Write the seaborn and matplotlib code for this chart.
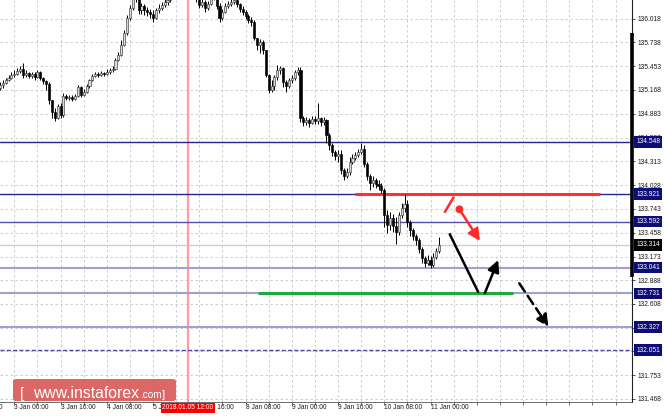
import numpy as np
import pandas as pd
import matplotlib
matplotlib.use("Agg")
import matplotlib.pyplot as plt
import matplotlib.transforms as mtransforms
from matplotlib.patches import FancyBboxPatch
import seaborn as sns

# hourly bars, bar 0 = 3 Jan 00:00 (weekend hours are skipped like in the terminal)
first_bar = -5
first_open = 135.189
closes = [
    135.225, 135.249, 135.285, 135.309, 135.345, 135.357, 135.393, 135.417, 135.345, 135.369,
    135.333, 135.357, 135.321, 135.381, 135.309, 135.273, 135.237, 135.045, 134.901, 134.829,
    134.973, 134.865, 135.093, 135.069, 135.081, 135.057, 135.093, 135.201, 135.105, 135.141,
    135.213, 135.285, 135.333, 135.357, 135.345, 135.369, 135.357, 135.381, 135.405, 135.417,
    135.525, 135.585, 135.705, 135.849, 136.029, 136.149, 136.341, 136.305, 136.125, 136.173,
    136.125, 136.101, 136.077, 136.029, 136.125, 136.149, 136.185, 136.221, 136.245, 136.281,
    136.365, 136.425, 136.461, 136.413, 136.485, 136.437, 136.389, 136.341, 136.281, 136.185,
    136.221, 136.149, 136.197, 136.269, 136.305, 136.173, 136.029, 136.101, 136.173, 136.197,
    136.221, 136.245, 136.197, 136.137, 136.101, 136.053, 136.005, 135.981, 135.789, 135.705,
    135.741, 135.645, 135.345, 135.165, 135.213, 135.321, 135.405, 135.429, 135.261, 135.213,
    135.285, 135.309, 135.381, 135.405, 134.829, 134.781, 134.805, 134.769, 134.817, 134.793,
    134.829, 134.781, 134.805, 134.625, 134.505, 134.421, 134.373, 134.397, 134.205, 134.133,
    134.181, 134.301, 134.349, 134.385, 134.421, 134.457, 134.277, 134.133, 134.049, 134.085,
    134.037, 134.013, 133.965, 133.665, 133.545, 133.629, 133.533, 133.461, 133.665, 133.749,
    133.797, 133.581, 133.485, 133.413, 133.365, 133.269, 133.161, 133.101, 133.137, 133.077,
    133.173, 133.245, 133.314,
]
highs = [
    135.261, 135.285, 135.309, 135.345, 135.381, 135.405, 135.429, 135.453, 135.489, 135.405,
    135.381, 135.381, 135.381, 135.405, 135.393, 135.321, 135.285, 135.261, 135.045, 134.949,
    134.997, 135.009, 135.129, 135.117, 135.105, 135.105, 135.117, 135.225, 135.213, 135.177,
    135.237, 135.297, 135.357, 135.381, 135.381, 135.393, 135.381, 135.417, 135.429, 135.453,
    135.549, 135.621, 135.765, 135.885, 136.065, 136.185, 136.389, 136.365, 136.341, 136.209,
    136.197, 136.161, 136.137, 136.125, 136.149, 136.197, 136.221, 136.269, 136.293, 136.341,
    136.413, 136.485, 136.533, 136.485, 136.557, 136.509, 136.461, 136.413, 136.353, 136.293,
    136.269, 136.245, 136.233, 136.317, 136.353, 136.317, 136.209, 136.137, 136.209, 136.233,
    136.269, 136.281, 136.257, 136.209, 136.173, 136.125, 136.077, 136.041, 136.005, 135.789,
    135.777, 135.765, 135.645, 135.357, 135.285, 135.345, 135.465, 135.453, 135.441, 135.285,
    135.309, 135.345, 135.405, 135.441, 135.441, 134.853, 134.841, 134.829, 134.853, 134.853,
    135.009, 134.841, 134.841, 134.817, 134.649, 134.529, 134.445, 134.445, 134.445, 134.229,
    134.229, 134.361, 134.397, 134.421, 134.457, 134.529, 134.505, 134.301, 134.157, 134.133,
    134.109, 134.085, 134.049, 133.989, 133.725, 133.701, 133.677, 133.641, 133.701, 133.809,
    133.925, 133.845, 133.605, 133.509, 133.437, 133.389, 133.293, 133.185, 133.197, 133.185,
    133.221, 133.281, 133.401,
]
lows = [
    135.165, 135.189, 135.237, 135.273, 135.297, 135.321, 135.345, 135.369, 135.309, 135.321,
    135.309, 135.309, 135.285, 135.309, 135.285, 135.237, 135.165, 134.997, 134.829, 134.793,
    134.817, 134.829, 134.841, 135.045, 135.045, 135.033, 135.045, 135.081, 135.081, 135.093,
    135.129, 135.189, 135.273, 135.321, 135.321, 135.333, 135.333, 135.345, 135.357, 135.381,
    135.405, 135.513, 135.573, 135.693, 135.825, 136.005, 136.125, 136.221, 136.077, 136.077,
    136.065, 136.053, 136.029, 135.981, 136.017, 136.089, 136.125, 136.161, 136.185, 136.221,
    136.269, 136.341, 136.389, 136.365, 136.389, 136.365, 136.341, 136.293, 136.221, 136.149,
    136.161, 136.101, 136.125, 136.185, 136.245, 136.137, 135.981, 136.005, 136.089, 136.149,
    136.173, 136.197, 136.161, 136.101, 136.065, 136.017, 135.969, 135.933, 135.765, 135.645,
    135.609, 135.597, 135.321, 135.129, 135.141, 135.165, 135.285, 135.357, 135.201, 135.141,
    135.189, 135.249, 135.285, 135.345, 134.781, 134.733, 134.745, 134.721, 134.757, 134.757,
    134.757, 134.733, 134.745, 134.529, 134.445, 134.373, 134.325, 134.301, 134.157, 134.085,
    134.109, 134.145, 134.277, 134.325, 134.361, 134.397, 134.241, 134.085, 133.965, 134.001,
    133.989, 133.965, 133.929, 133.521, 133.449, 133.485, 133.461, 133.329, 133.425, 133.629,
    133.701, 133.521, 133.413, 133.365, 133.317, 133.221, 133.101, 133.053, 133.077, 133.041,
    133.053, 133.149, 133.221,
]

levels = [134.548, 133.921, 133.592, 133.041, 132.731, 132.327, 132.051]
level_colors = ["#26268c", "#26268c", "#5050ac", "#a0a0d4", "#a0a0d4", "#a0a0d4", "#4a4aa6"]
level_styles = ["-", "-", "-", "-", "-", "-", (0, (3, 1.5))]
level_widths = [1.0, 1.0, 1.0, 1.5, 1.5, 1.5, 1.0]
last_price = 133.314

price_ticks = [136.018, 135.738, 135.453, 135.168, 134.883, 134.598, 134.313, 134.028,
               133.743, 133.458, 133.173, 132.888, 132.608, 132.323, 132.038, 131.753, 131.468]
# labels that sit fully under a level box are not shown by the terminal
hidden_ticks = [132.323, 132.038]
time_bars = [-16, 0, 16, 32, 48, 64, 80, 96, 112, 128, 144]
time_labels = ["2 Jan 08:00", "3 Jan 00:00", "3 Jan 16:00", "4 Jan 08:00", "5 Jan 00:00",
               "5 Jan 16:00", "8 Jan 08:00", "9 Jan 00:00", "9 Jan 16:00", "10 Jan 08:00",
               "11 Jan 00:00"]
cursor_bar = 60
cursor_label = "2018.01.05 12:00"

# forecast drawing: red resistance, green support, arrows (bar, price)
resistance = (133.921, 117.9, 202.7)
support = (132.731, 84.3, 172.6)
red_stroke = [(148.8, 133.698), (152.1, 133.889)]
red_dot = (154.0, 133.738)
red_arrow = [(154.0, 133.738), (161.1, 133.359)]
black_stroke = [(150.5, 133.451), (160.6, 132.740)]
black_up = [(162.8, 132.736), (167.4, 133.131)]
black_down = [(174.7, 132.852), (184.8, 132.332)]

df = pd.DataFrame({"close": closes, "high": highs, "low": lows})
df["open"] = [first_open] + closes[:-1]
df["bar"] = np.arange(first_bar, first_bar + len(df))
up = df["close"] >= df["open"]

sns.set_theme(style="white")
plt.rcParams["font.family"] = ["Liberation Sans", "DejaVu Sans"]

fig = plt.figure(figsize=(6.64, 4.16), dpi=100)
ax = fig.add_axes([0, 14 / 416, 632 / 664, 402 / 416])
ax.set_xlim(-4.95, 213.7)
ax.set_ylim(131.431, 136.245)

# grid
ax.set_xticks(np.arange(0, 214, 8))
ax.set_yticks(price_ticks)
ax.set_yticklabels(["" if p in hidden_ticks else f"{p:.3f}" for p in price_ticks])
ax.set_xticklabels([])
ax.grid(True, color="#c6c6c6", linestyle=(0, (3, 3)), linewidth=0.6)
ax.set_axisbelow(True)
ax.yaxis.tick_right()
ax.tick_params(axis="y", right=True, left=False, length=2.5, width=0.6, pad=1.2,
               labelsize=4.8, labelcolor="#1a1a1a", color="#333333")
ax.tick_params(axis="x", bottom=True, length=2, width=0.6, color="#555555")
for s in ["left", "top"]:
    ax.spines[s].set_visible(False)
ax.spines["right"].set_color("#222222")
ax.spines["right"].set_linewidth(0.8)
ax.spines["bottom"].set_color("#555555")
ax.spines["bottom"].set_linewidth(0.6)

# levels
for p, c, ls, lw in zip(levels, level_colors, level_styles, level_widths):
    ax.axhline(p, color=c, linestyle=ls, linewidth=lw, zorder=2)
ax.axhline(last_price, color="#cfcfcf", linewidth=1.0, zorder=1.8)
ax.axvline(cursor_bar, color="#ff9e9e", linewidth=1.6, zorder=1.9)

ax.hlines(resistance[0], resistance[1], resistance[2], color="#ff3030", linewidth=2.2, zorder=2.6)
ax.hlines(support[0], support[1], support[2], color="#1faa40", linewidth=2.2, zorder=2.6)

# candles
ax.vlines(df["bar"], df["low"], df["high"], color="black", linewidth=0.7, zorder=3)
ax.bar(df["bar"][up], (df["close"] - df["open"])[up], bottom=df["open"][up], width=0.72,
       color="#d8d8d8", edgecolor="#3a3a3a", linewidth=0.45, zorder=4)
ax.bar(df["bar"][~up], (df["close"] - df["open"])[~up], bottom=df["open"][~up], width=0.72,
       color="black", edgecolor="black", linewidth=0.45, zorder=4)

# forecast arrows
ax.plot(*zip(*red_stroke), color="#ff2b2b", linewidth=1.8, zorder=6, solid_capstyle="butt")
sns.scatterplot(x=[red_dot[0]], y=[red_dot[1]], color="#ff2b2b", s=32, edgecolor="none",
                zorder=7, ax=ax, legend=False)
ax.annotate("", xy=red_arrow[1], xytext=red_arrow[0], zorder=6,
            arrowprops=dict(arrowstyle="-|>,head_length=0.7,head_width=0.35", color="#ff2b2b",
                            lw=1.8, shrinkA=0, shrinkB=0, mutation_scale=10))
ax.plot(*zip(*black_stroke), color="black", linewidth=1.8, zorder=6, solid_capstyle="butt")
ax.annotate("", xy=black_up[1], xytext=black_up[0], zorder=6,
            arrowprops=dict(arrowstyle="-|>,head_length=0.7,head_width=0.35", color="black",
                            lw=1.8, shrinkA=0, shrinkB=0, mutation_scale=10))
ax.annotate("", xy=black_down[1], xytext=black_down[0], zorder=6,
            arrowprops=dict(arrowstyle="-|>,head_length=0.7,head_width=0.35", color="black",
                            lw=1.8, ls=(0, (4, 2)), shrinkA=0, shrinkB=0, mutation_scale=10))

# right side price boxes
ytr = mtransforms.blended_transform_factory(ax.transAxes, ax.transData)
ax.plot([1.0, 1.0], [135.85, 132.928], transform=ytr, color="black", linewidth=2.6,
        clip_on=False, solid_capstyle="butt", zorder=8)
for p in levels:
    ax.text(1.0065, p, f"{p:.3f}", transform=ytr, fontsize=4.8, color="white", va="center",
            ha="left", clip_on=False, zorder=12,
            bbox=dict(boxstyle="square,pad=0.35", fc="#0d0d78", ec="none"))
ax.text(1.0065, last_price, f"{last_price:.3f}", transform=ytr, fontsize=4.8, color="white",
        va="center", ha="left", clip_on=False, zorder=12,
        bbox=dict(boxstyle="square,pad=0.35", fc="black", ec="none"))

# time axis labels
xtr = mtransforms.blended_transform_factory(ax.transData, ax.transAxes)
for b, lab in zip(time_bars, time_labels):
    ax.text(b, -0.006, lab, transform=xtr, fontsize=4.8, color="#1a1a1a", ha="left", va="top",
            clip_on=False)
ax.text(cursor_bar, -0.006, cursor_label, transform=xtr, fontsize=4.8, color="white",
        ha="center", va="top", clip_on=False, zorder=12,
        bbox=dict(boxstyle="square,pad=0.25", fc="#ff0000", ec="none"))

# watermark
wm = FancyBboxPatch((13 / 664, 15 / 416), 163 / 664, 22 / 416,
                    boxstyle="round,pad=0,rounding_size=0.005", transform=fig.transFigure,
                    fc="#d95656", ec="none", alpha=0.9, zorder=20)
fig.add_artist(wm)
fig.text(20 / 664, 18 / 416, "[", fontsize=11, color="white", va="baseline", zorder=21)
fig.text(33 / 664, 18 / 416, "www.instaforex", fontsize=11.3, color="white", va="baseline",
         zorder=21)
fig.text(140 / 664, 18 / 416, ".com", fontsize=7.2, color="white", va="baseline", zorder=21)
fig.text(162 / 664, 18 / 416, "]", fontsize=8, color="white", va="baseline", zorder=21)

fig.savefig("out.png", dpi=100)
